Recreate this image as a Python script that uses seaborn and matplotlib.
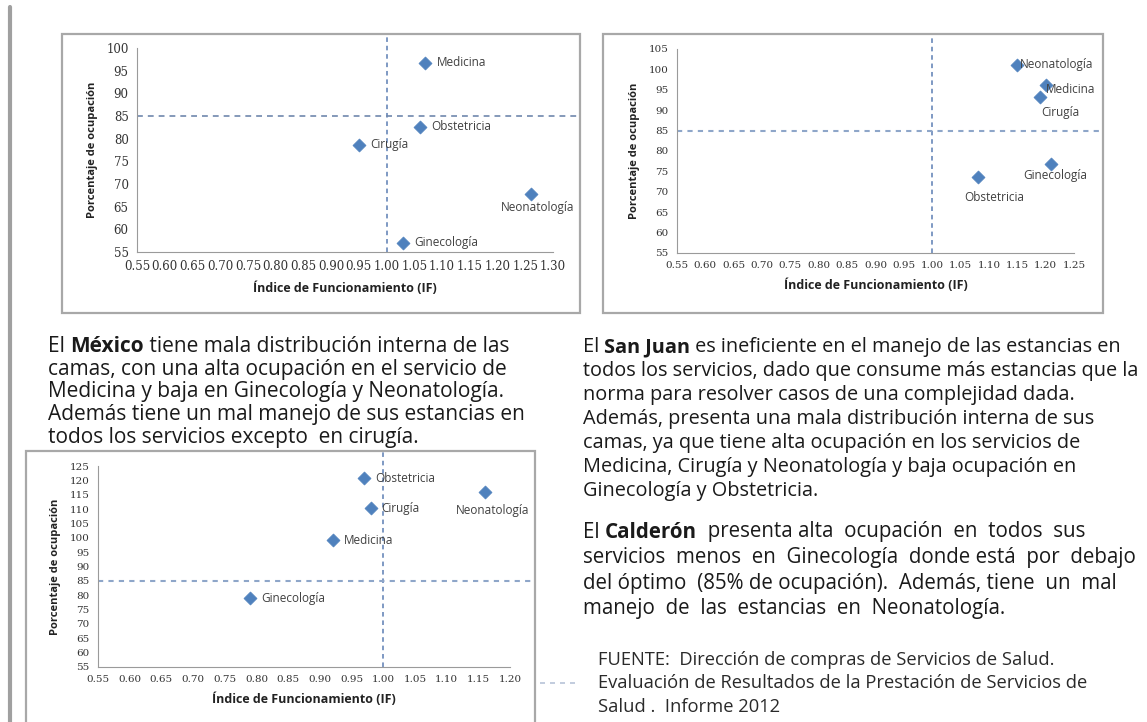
import matplotlib
matplotlib.use("Agg")
import matplotlib.pyplot as plt
import seaborn as sns
import pandas as pd
from matplotlib.patches import Rectangle
from matplotlib.lines import Line2D

# ---------------- DATA ----------------
servicios_mexico = ["Medicina", "Obstetricia", "Cirugía", "Neonatología", "Ginecología"]
if_mexico = [1.07, 1.06, 0.95, 1.26, 1.03]
ocup_mexico = [96.8, 82.6, 78.7, 67.8, 57.0]

servicios_sanjuan = ["Neonatología", "Medicina", "Cirugía", "Ginecología", "Obstetricia"]
if_sanjuan = [1.15, 1.20, 1.19, 1.21, 1.08]
ocup_sanjuan = [101.1, 96.2, 93.3, 76.7, 73.6]

servicios_calderon = ["Obstetricia", "Cirugía", "Neonatología", "Medicina", "Ginecología"]
if_calderon = [0.97, 0.98, 1.16, 0.92, 0.79]
ocup_calderon = [120.7, 110.2, 115.8, 99.1, 78.9]

if_norma = 1.00
ocup_optima = 85

xticks_mexico = [0.55, 0.60, 0.65, 0.70, 0.75, 0.80, 0.85, 0.90, 0.95, 1.00, 1.05, 1.10, 1.15, 1.20, 1.25, 1.30]
yticks_mexico = [55, 60, 65, 70, 75, 80, 85, 90, 95, 100]
xticks_sanjuan = [0.55, 0.60, 0.65, 0.70, 0.75, 0.80, 0.85, 0.90, 0.95, 1.00, 1.05, 1.10, 1.15, 1.20, 1.25]
yticks_sanjuan = [55, 60, 65, 70, 75, 80, 85, 90, 95, 100, 105]
xticks_calderon = [0.55, 0.60, 0.65, 0.70, 0.75, 0.80, 0.85, 0.90, 0.95, 1.00, 1.05, 1.10, 1.15, 1.20]
yticks_calderon = [55, 60, 65, 70, 75, 80, 85, 90, 95, 100, 105, 110, 115, 120, 125]

# label placement (offset in points, alignment)
R = ((8, 0), "left", "center")
place_mexico = [R, R, R, ((5, -10), "center", "center"), R]
place_sanjuan = [((2, 0), "left", "center"), ((0, -3), "left", "center"), ((15, -11), "center", "center"),
                 ((3, -8), "center", "center"), ((12, -15), "center", "center")]
place_calderon = [R, R, ((6, -13), "center", "center"), R, R]

W, H = 1147, 722
sns.set_theme(style="white")
plt.rcParams["font.family"] = ["Open Sans", "DejaVu Sans"]
fig = plt.figure(figsize=(W / 100, H / 100), dpi=100)
fig.patch.set_facecolor("white")

MARK = "#4F81BD"
AX = "#9a9a9a"


def px_rect(x0, x1, ytop, ybot):
    return [x0 / W, (H - ybot) / H, (x1 - x0) / W, (ybot - ytop) / H]


def box(x0, x1, ytop, ybot):
    fig.patches.append(Rectangle((x0 / W, (H - ybot) / H), (x1 - x0) / W, (ybot - ytop) / H,
                                 transform=fig.transFigure, fill=False, ec="#a8a8a8", lw=1.6))


def chart(px, frame, names, xs, ys, places, xt, yt, tick_fs, hstyle):
    x0, x1, ytop, ybot = px
    ax = fig.add_axes(px_rect(x0, x1, ytop, ybot))
    df = pd.DataFrame({"IF": xs, "Ocup": ys, "Servicio": names})
    sns.scatterplot(data=df, x="IF", y="Ocup", marker="D", s=44, color=MARK,
                    edgecolor=MARK, linewidth=0.5, ax=ax, zorder=3)
    # reference lines reach up to / across to the chart frame
    ax.axvline(if_norma, ymin=0, ymax=(ybot - frame[2]) / (ybot - ytop), color="#5b7db3",
               ls=(0, (3, 2.5)), lw=1.1, zorder=2, clip_on=False)
    hcol, hls, hlw = hstyle
    ax.axhline(ocup_optima, xmin=0, xmax=(frame[1] - 2 - x0) / (x1 - x0), color=hcol, ls=hls, lw=hlw,
               zorder=2, clip_on=False)
    ax.set_xlim(xt[0], xt[-1])
    ax.set_ylim(yt[0], yt[-1])
    ax.set_xticks(xt)
    ax.set_yticks(yt)
    ax.set_xticklabels([f"{v:.2f}" for v in xt], family="DejaVu Serif", fontsize=tick_fs, color="#333333")
    ax.set_yticklabels([str(v) for v in yt], family="DejaVu Serif", fontsize=tick_fs, color="#333333")
    for s in ["top", "right"]:
        ax.spines[s].set_visible(False)
    for s in ["left", "bottom"]:
        ax.spines[s].set_color(AX)
        ax.spines[s].set_linewidth(0.8)
    ax.tick_params(axis="both", direction="out", length=3, width=0.8, color=AX, pad=3)
    ax.set_xlabel("Índice de Funcionamiento (IF)", fontsize=9, fontweight="bold", color="#222222",
                  labelpad=6)
    ax.set_ylabel("Porcentaje de ocupación", fontsize=8, fontweight="bold", color="#222222",
                  labelpad=6)
    ax.patch.set_alpha(0)
    for n, x, y, (off, ha, va) in zip(names, xs, ys, places):
        ax.annotate(n, (x, y), xytext=off, textcoords="offset points", ha=ha, va=va,
                    fontsize=8.5, color="#404040", zorder=4)
    return ax


# chart frames (pixels: left, right, top, bottom)
frame1 = (62, 580, 34, 313)
frame2 = (603, 1103, 34, 313)
frame3 = (26, 535, 451, 740)
for f in (frame1, frame2, frame3):
    box(*f)

chart((137, 553, 48, 252), frame1, servicios_mexico, if_mexico, ocup_mexico, place_mexico,
      xticks_mexico, yticks_mexico, 8.5, ("#6f87ad", (0, (3.5, 3)), 1.2))
chart((677, 1074, 49, 253), frame2, servicios_sanjuan, if_sanjuan, ocup_sanjuan, place_sanjuan,
      xticks_sanjuan, yticks_sanjuan, 7.5, ("#8ea6c9", (0, (2.5, 2.5)), 1.5))
chart((98, 510, 466, 667), frame3, servicios_calderon, if_calderon, ocup_calderon, place_calderon,
      xticks_calderon, yticks_calderon, 7.5, ("#8ea6c9", (0, (2.5, 2.5)), 1.5))

# left grey bar and small dashed stub
fig.lines.append(Line2D([9.5 / W, 9.5 / W], [0, (H - 7) / H], transform=fig.transFigure, color="#a0a0a0", lw=3))
fig.lines.append(Line2D([540 / W, 580 / W], [(H - 683) / H] * 2, transform=fig.transFigure,
                        color="#b8c4d8", lw=1.2, ls=(0, (3, 3))))

renderer = fig.canvas.get_renderer()


def rich_line(x, y, parts, fs, color="#1a1a1a"):
    cx = x
    for txt, bold in parts:
        t = fig.text(cx / W, (H - y) / H, txt, fontsize=fs, color=color, va="center", ha="left",
                     fontweight="bold" if bold else "normal")
        bb = t.get_window_extent(renderer=renderer)
        cx += bb.width


mexico_lines = [
    [("El ", False), ("México", True), (" tiene mala distribución interna de las", False)],
    [("camas, con una alta ocupación en el servicio de", False)],
    [("Medicina y baja en Ginecología y Neonatología.", False)],
    [("Además tiene un mal manejo de sus estancias en", False)],
    [("todos los servicios excepto  en cirugía.", False)],
]
for i, parts in enumerate(mexico_lines):
    rich_line(48, 347 + i * 22.5, parts, 15)

sanjuan_lines = [
    [("El ", False), ("San Juan", True), (" es ineficiente en el manejo de las estancias en", False)],
    [("todos los servicios, dado que consume más estancias que la", False)],
    [("norma para resolver casos de una complejidad dada.", False)],
    [("Además, presenta una mala distribución interna de sus", False)],
    [("camas, ya que tiene alta ocupación en los servicios de", False)],
    [("Medicina, Cirugía y Neonatología y baja ocupación en", False)],
    [("Ginecología y Obstetricia.", False)],
]
for i, parts in enumerate(sanjuan_lines):
    rich_line(583, 347 + i * 24, parts, 14.3)

calderon_lines = [
    [("El ", False), ("Calderón", True), ("  presenta alta  ocupación  en  todos  sus", False)],
    [("servicios  menos  en  Ginecología  donde está  por  debajo", False)],
    [("del óptimo  (85% de ocupación).  Además, tiene  un  mal", False)],
    [("manejo  de  las  estancias  en  Neonatología.", False)],
]
for i, parts in enumerate(calderon_lines):
    rich_line(583, 532 + i * 25.5, parts, 14.8)

fuente_lines = [
    [("FUENTE:  Dirección de compras de Servicios de Salud.", False)],
    [("Evaluación de Resultados de la Prestación de Servicios de", False)],
    [("Salud .  Informe 2012", False)],
]
for i, parts in enumerate(fuente_lines):
    rich_line(598, 660 + i * 23.5, parts, 13.2, color="#2a2a2a")

fig.savefig("out.png", dpi=100)
